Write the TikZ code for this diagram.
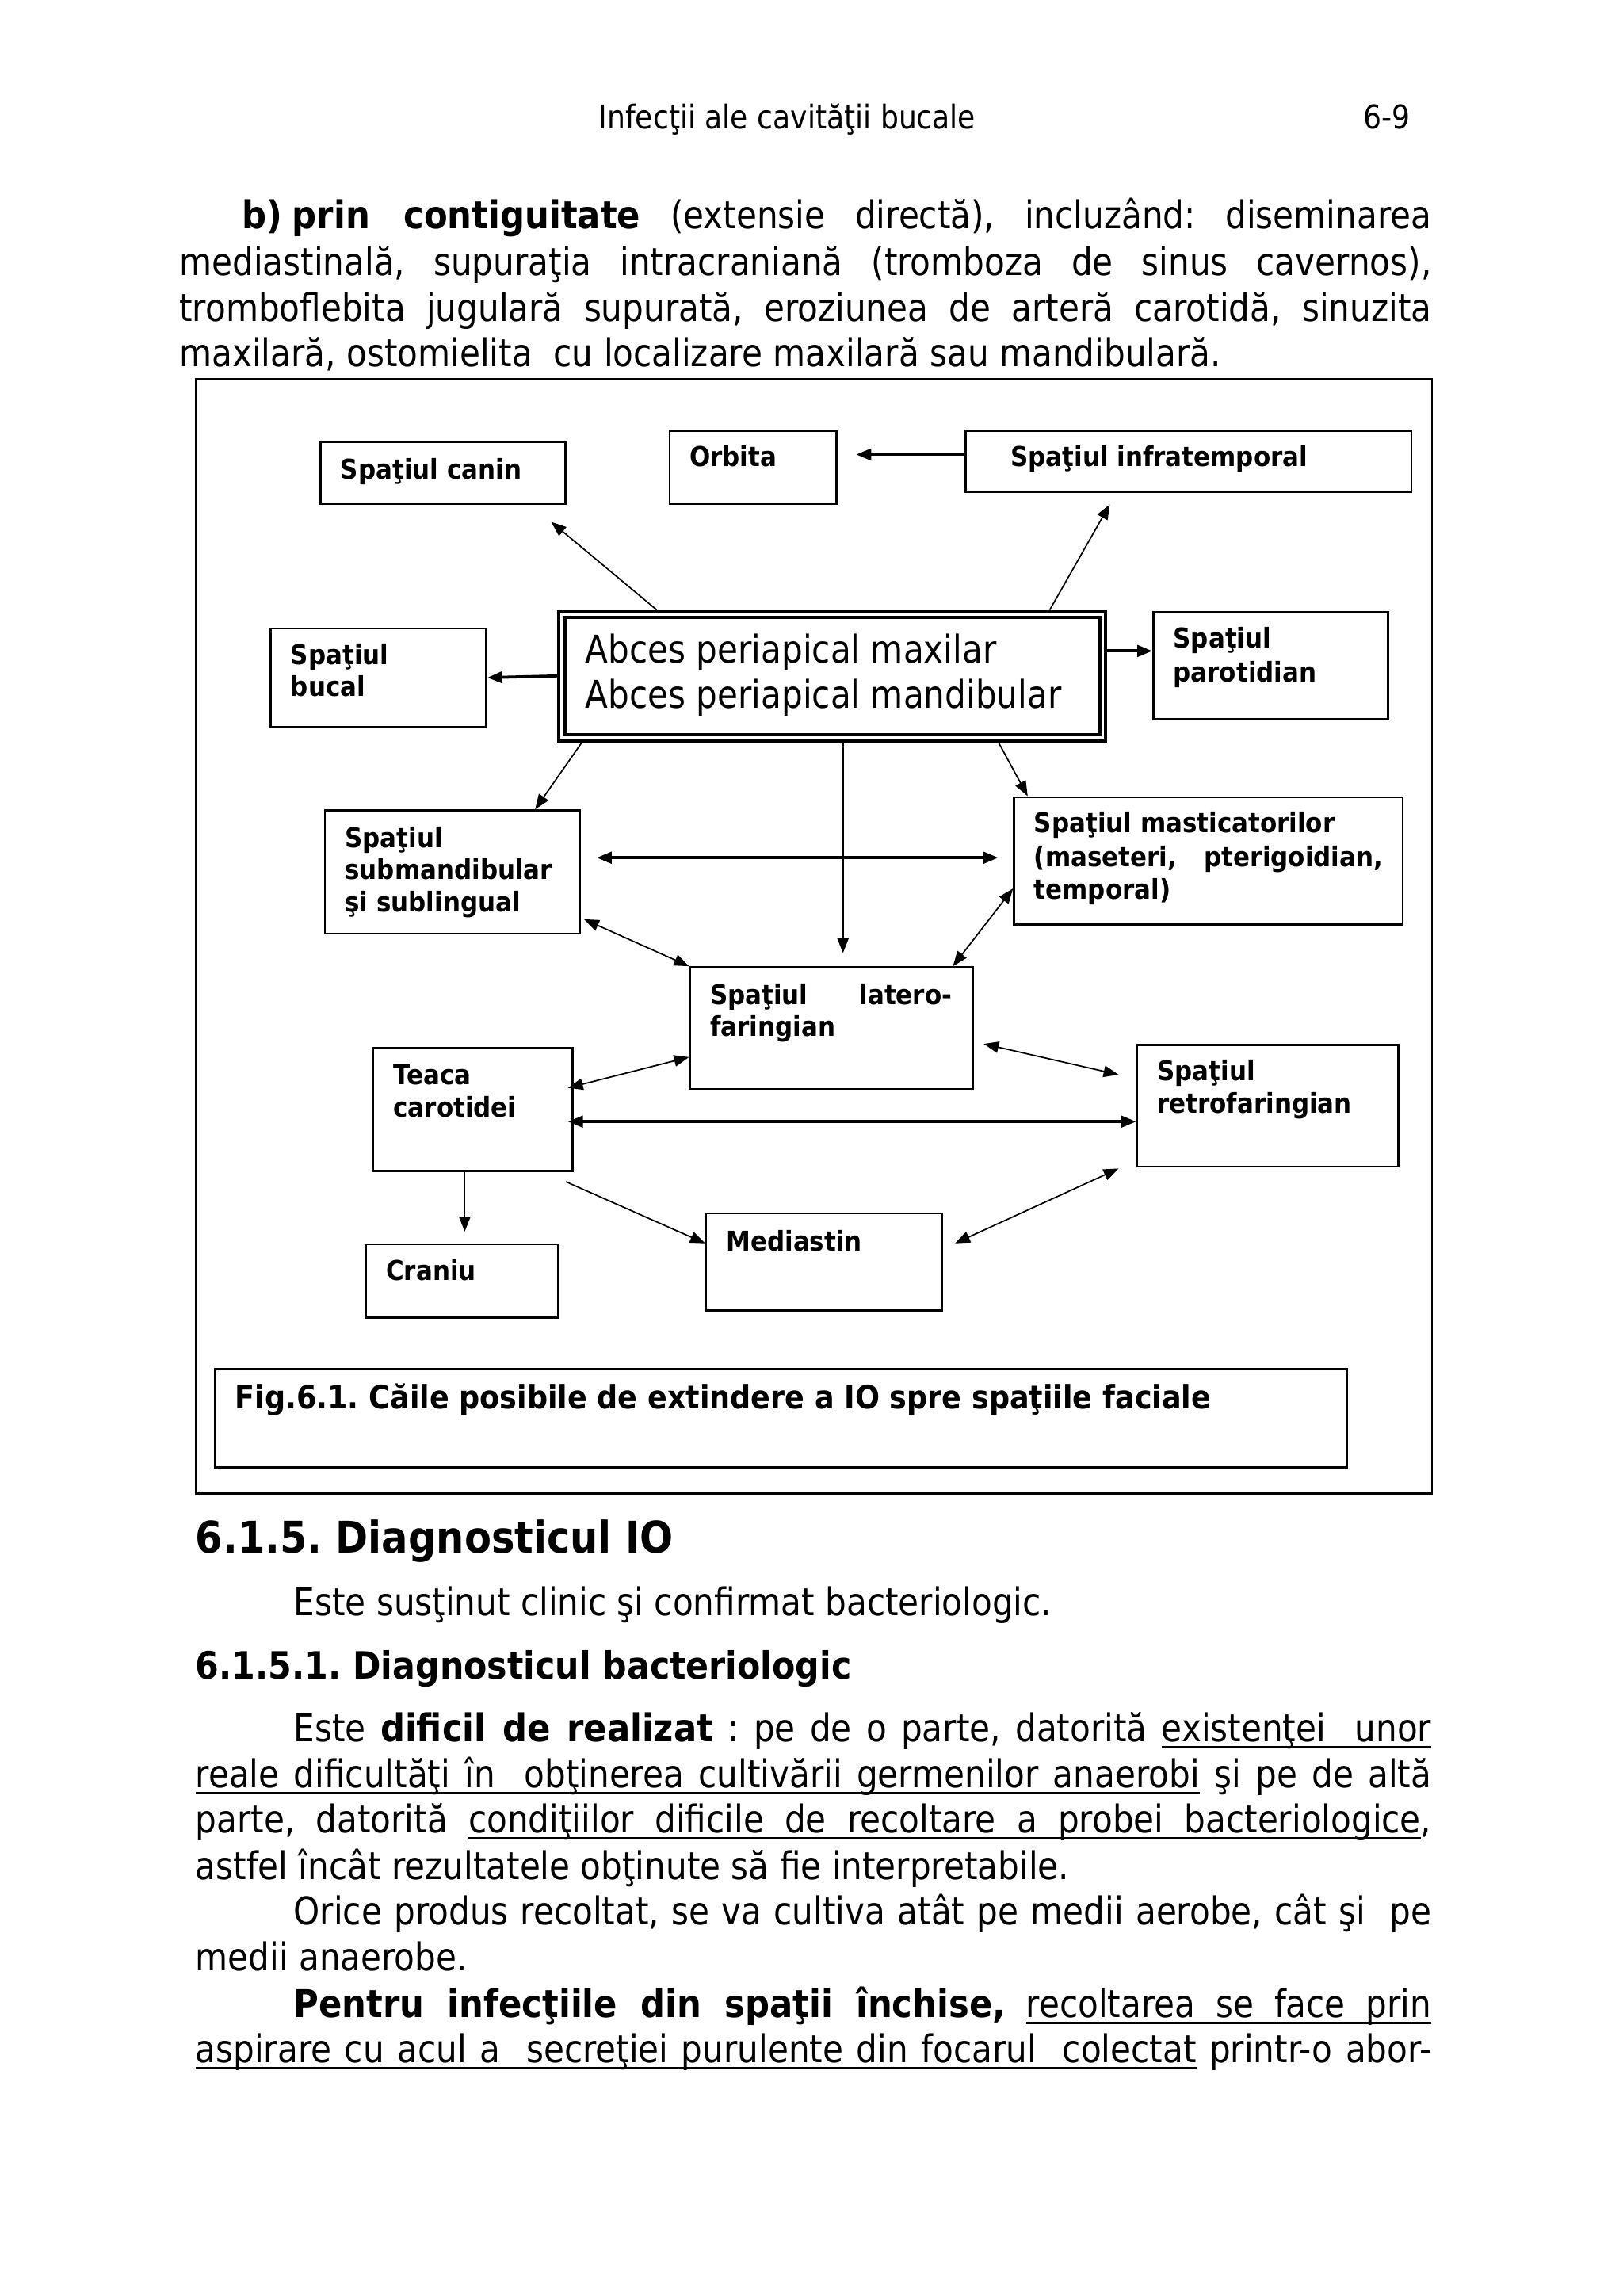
\documentclass[tikz,border=0pt]{standalone}
\usepackage{fontspec}
\setmainfont{DejaVu Sans}[FakeStretch=0.875,BoldFeatures={FakeStretch=0.9}]
\usetikzlibrary{arrows.meta,calc}
\newlength\pxu \setlength\pxu{0.53775pt}
\newlength\uld \setlength\uld{2.4pt}
\newlength\ult \setlength\ult{0.8pt}
\newsavebox\ulbox
\newcommand\uw[1]{\sbox\ulbox{#1}\leavevmode\rlap{\rule[-\uld]{\wd\ulbox}{\ult}}\usebox\ulbox}
\newcommand\us{\leaders\hrule height \dimexpr\ult-\uld\relax depth \uld\hskip\fontdimen2\font plus\fontdimen3\font minus\fontdimen4\font\relax}
\newcommand\jl[2]{\makebox[#1\pxu][s]{#2}}
\newcommand\boxat[5]{\node[bx,minimum width=#4*\pxu,minimum height=#5*\pxu] (#1) at (#2,#3) {};}
\frenchspacing
\begin{document}
\begin{tikzpicture}[x=0.53775pt,y=-0.53775pt,
  >={Triangle[length=5.5pt,width=4.2pt]},
  bx/.style={draw,line width=0.75pt,inner sep=0pt,anchor=north west},
  lb/.style={font=\fontsize{10}{12}\selectfont\bfseries,inner sep=0pt,anchor=base west},
  tx/.style={font=\fontsize{14}{17}\selectfont,inner sep=0pt,anchor=base west},
  ar/.style={line width=0.5pt,->},
  dar/.style={line width=0.5pt,<->},
  tar/.style={line width=1.1pt,->},
  tdar/.style={line width=1.1pt,<->}]
\useasboundingbox (0,0) rectangle (1107,1566);
\fill[white] (0,0) rectangle (1107,1566);

% header
\node[font=\fontsize{12}{14}\selectfont,anchor=base,inner sep=0pt] (hdr) at (537,88) {Infecţii ale cavităţii bucale};
\node[font=\fontsize{12}{14}\selectfont,anchor=base,inner sep=0pt] (pg) at (946,88) {6-9};

% paragraph above
\node[tx] (p1) at (165,156) {\jl{811}{\textbf{b)\hspace{0.25em}prin contiguitate} (extensie directă), incluzând: diseminarea}};
\node[tx] (p2) at (122,188) {\jl{854}{mediastinală, supuraţia intracraniană (tromboza de sinus cavernos),}};
\node[tx] (p3) at (122,219) {\jl{854}{tromboflebita jugulară supurată, eroziunea de arteră carotidă, sinuzita}};
\node[tx] (p4) at (122,250) {maxilară, ostomielita\ \ cu localizare maxilară sau mandibulară.};

% diagram frame
\boxat{frame}{133}{258}{843}{760}

% boxes
\boxat{canin}{218}{301}{167}{42}
\boxat{orbita}{456}{293}{114}{50}
\boxat{infra}{658}{293}{304}{42}
\node[bx,line width=1.2pt,minimum width=373*\pxu,minimum height=88*\pxu] (abces) at (380,416) {};
\node[bx,line width=1.2pt,minimum width=365*\pxu,minimum height=80*\pxu] (abcesin) at (384,420) {};
\boxat{bucal}{184}{428}{147}{67}
\boxat{parot}{786}{417}{160}{73}
\boxat{subm}{221}{552}{174}{84}
\boxat{mast}{691}{543}{265}{87}
\boxat{lat}{470}{659}{193}{83}
\boxat{teaca}{254}{714}{136}{84}
\boxat{retro}{775}{712}{178}{83}
\boxat{craniu}{249}{848}{131}{50}
\boxat{med}{481}{827}{161}{66}
\boxat{fig}{146}{933}{772}{67}

% labels
\node[lb] (tcanin) at (232,327) {Spaţiul canin};
\node[lb] (torbita) at (470,318) {Orbita};
\node[lb] (tinfra) at (689,318) {Spaţiul infratemporal};
\node[tx] (tab1) at (399,452) {Abces periapical maxilar};
\node[tx] (tab2) at (399,483) {Abces periapical mandibular};
\node[lb] (tbuc1) at (198,453) {Spaţiul};
\node[lb] (tbuc2) at (198,475) {bucal};
\node[lb] (tpar1) at (800,442) {Spaţiul};
\node[lb] (tpar2) at (800,465) {parotidian};
\node[lb] (tsub1) at (235,578) {Spaţiul};
\node[lb] (tsub2) at (235,600) {submandibular};
\node[lb] (tsub3) at (235,622) {şi sublingual};
\node[lb] (tmas1) at (705,568) {Spaţiul masticatorilor};
\node[lb] (tmas2) at (705,591) {\jl{238}{(maseteri, pterigoidian,}};
\node[lb] (tmas3) at (705,613) {temporal)};
\node[lb] (tlat1) at (484,685) {\jl{165}{Spaţiul latero-}};
\node[lb] (tlat2) at (484,707) {faringian};
\node[lb] (ttea1) at (268,740) {Teaca};
\node[lb] (ttea2) at (268,762) {carotidei};
\node[lb] (tret1) at (789,737) {Spaţiul};
\node[lb] (tret2) at (789,759) {retrofaringian};
\node[lb] (tcra) at (263,873) {Craniu};
\node[lb] (tmed) at (495,853) {Mediastin};
\node[lb,font=\fontsize{11.8}{14}\selectfont\bfseries] (tfig) at (160,961) {Fig.6.1. Căile posibile de extindere a IO spre spaţiile faciale};

% free ends
\coordinate (ecanin) at (376,356);
\coordinate (einfra) at (757,344);
\coordinate (eorb) at (584,310);
\coordinate (elat) at (575,650);
\coordinate (esm) at (407,585);
\coordinate (ems) at (681,585);
\coordinate (el1) at (671,712);
\coordinate (er1) at (763,733);
\coordinate (ecr) at (317,840);
\coordinate (etm) at (386,806);
\coordinate (erm) at (763,797);

% connectors
\draw[ar] ($(abces.north west)+(68,0)$) -- (ecanin);
\draw[ar] ($(abces.north west)+(336,0)$) -- (einfra);
\draw[tar] ($(infra.north west)+(0,17)$) -- (eorb);
\draw[tar] ($(abces.north west)+(0,45)$) -- (bucal.east);
\draw[tar] ($(abces.north east)+(0,28)$) -- ($(parot.north west)+(0,27)$);
\draw[ar] ($(abces.south west)+(17,0)$) -- ($(subm.north west)+(144,0)$);
\draw[ar] ($(abces.south west)+(195,0)$) -- (elat);
\draw[ar] ($(abces.south west)+(301,0)$) -- ($(mast.north west)+(10,0)$);
\draw[tdar] (esm) -- (ems);
\draw[dar] ($(subm.north east)+(2,75)$) -- (lat.north west);
\draw[dar] ($(mast.north west)+(0,63)$) -- ($(lat.north west)+(180,0)$);
\draw[dar] ($(teaca.north east)+(-4,28)$) -- ($(lat.north west)+(0,62)$);
\draw[dar] (el1) -- (er1);
\draw[tdar] ($(teaca.north east)+(-4,51)$) -- ($(retro.north west)+(0,53)$);
\draw[ar] ($(teaca.south west)+(63,0)$) -- (ecr);
\draw[ar] (etm) -- ($(med.north west)+(0,21)$);
\draw[dar] ($(med.north east)+(8,21)$) -- (erm);

% text below
\node[font=\fontsize{16}{20}\selectfont\bfseries,anchor=base west,inner sep=0pt] (h1) at (133,1059) {6.1.5. Diagnosticul IO};
\node[tx] (s1) at (200,1102) {Este susţinut clinic şi confirmat bacteriologic.};
\node[tx,font=\fontsize{13.8}{17}\selectfont\bfseries] (h2) at (133,1145) {6.1.5.1. Diagnosticul bacteriologic};
\node[tx] (q1) at (200,1188) {\jl{776}{Este \textbf{dificil de realizat} : pe de o parte, datorită \uw{existenţei}\us\us\uw{unor}}};
\node[tx] (q2) at (133,1219) {\jl{843}{\uw{reale}\us\uw{dificultăţi}\us\uw{în}\us\us\uw{obţinerea}\us\uw{cultivării}\us\uw{germenilor}\us\uw{anaerobi} şi pe de altă}};
\node[tx] (q3) at (133,1250) {\jl{843}{parte, datorită \uw{condiţiilor}\us\uw{dificile}\us\uw{de}\us\uw{recoltare}\us\uw{a}\us\uw{probei}\us\uw{bacteriologice},}};
\node[tx] (q4) at (133,1282) {astfel încât rezultatele obţinute să fie interpretabile.};
\node[tx] (r1) at (200,1313) {\jl{776}{Orice produs recoltat, se va cultiva atât pe medii aerobe, cât şi\ \ pe}};
\node[tx] (r2) at (133,1344) {medii anaerobe.};
\node[tx] (t1) at (200,1376) {\jl{776}{\textbf{Pentru infecţiile din spaţii închise,} \uw{recoltarea}\us\uw{se}\us\uw{face}\us\uw{prin}}};
\node[tx] (t2) at (133,1407) {\jl{843}{\uw{aspirare}\us\uw{cu}\us\uw{acul}\us\uw{a}\us\us\uw{secreţiei}\us\uw{purulente}\us\uw{din}\us\uw{focarul}\us\us\uw{colectat} printr-o abor-}};
\end{tikzpicture}
\end{document}
